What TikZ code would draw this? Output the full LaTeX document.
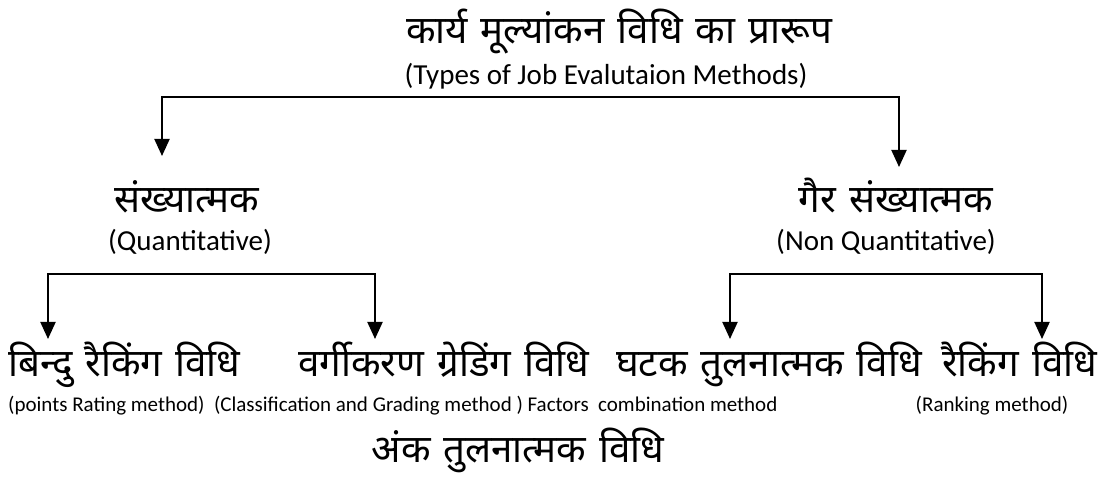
\documentclass[tikz,border=0pt]{standalone}
\usepackage{fontspec}
\setmainfont{Carlito}
\newfontfamily\hin[Script=Devanagari,WordSpace=1.3]{Noto Sans}
\usetikzlibrary{arrows.meta}
\tikzset{
  hi/.style={inner sep=0pt, anchor=base, font=\hin\fontsize{38.5}{44}\selectfont},
  en/.style={inner sep=0pt, anchor=base, font=\fontsize{29}{34}\selectfont},
  ens/.style={inner sep=0pt, anchor=base west, font=\fontsize{21}{25}\selectfont},
  conn/.style={line width=2pt, line join=miter,
    {Triangle[length=17pt,width=15pt]}-{Triangle[length=17pt,width=15pt]}},
}
\begin{document}
\begin{tikzpicture}[x=1pt,y=-1pt]
\useasboundingbox (0,0) rectangle (1098,478);
% top
\node[hi] (title) at (619,44) {कार्य मूल्यांकन विधि का प्रारूप};
\node[en] (titleEn) at (606,85) {(Types of Job Evalutaion Methods)};
% level 2
\node[hi] (quant) at (187,213) {संख्यात्मक};
\node[en] (quantEn) at (190,251) {(Quantitative)};
\node[hi] (nquant) at (896,213) {गैर संख्यात्मक};
\node[en] (nquantEn) at (886,251) {(Non Quantitative)};
% level 3
\node[hi, anchor=base west] (bindu) at (8,376) {बिन्दु रैकिंग विधि};
\node[hi, anchor=base west] (varg) at (298,376) {वर्गीकरण ग्रेडिंग विधि};
\node[hi, anchor=base west] (ghat) at (616,376) {घटक तुलनात्मक विधि};
\node[hi, anchor=base west] (rank) at (942,376) {रैकिंग विधि};
\node[ens] (e1) at (8,411) {(points Rating method)\ \ (Classification and Grading method ) Factors\ \ combination method};
\node[ens, anchor=base] (e2) at (992,411) {(Ranking method)};
\node[hi] (anka) at (518,462) {अंक तुलनात्मक विधि};
% connectors
\coordinate (c1) at (162,97);
\coordinate (c2) at (899,97);
\coordinate (t1) at (162,156);
\coordinate (t2) at (899,167);
\draw[conn] (t1) -- (c1) -- (c2) -- (t2);
\coordinate (c3) at (48,274);
\coordinate (c4) at (375,274);
\coordinate (t3) at (48,339);
\coordinate (t4) at (375,339);
\draw[conn] (t3) -- (c3) -- (c4) -- (t4);
\coordinate (c5) at (730,274);
\coordinate (c6) at (1042,274);
\coordinate (t5) at (730,339);
\coordinate (t6) at (1042,339);
\draw[conn] (t5) -- (c5) -- (c6) -- (t6);
\end{tikzpicture}
\end{document}
